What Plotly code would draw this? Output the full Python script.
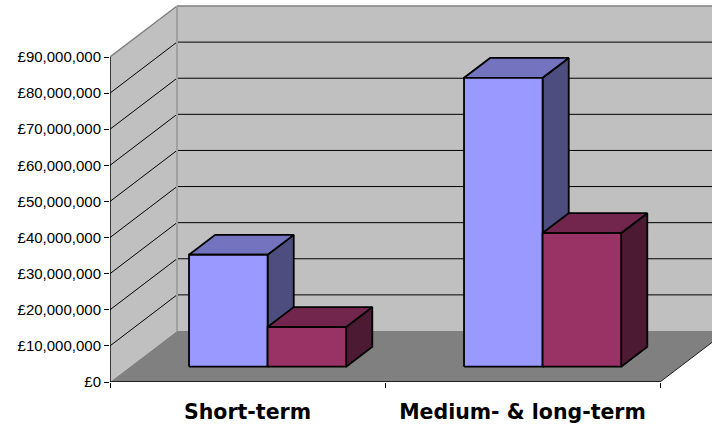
import plotly.graph_objects as go

# ---- data -------------------------------------------------------------
categories = ["Short-term", "Medium- & long-term"]
series_blue = [31_000_000, 80_000_000]
series_maroon = [11_000_000, 37_000_000]
y_tick_values = list(range(0, 90_000_001, 10_000_000))
y_tick_labels = [f"£{v:,}" for v in y_tick_values]

# ---- geometry of the oblique 3-D frame --------------------------------
W, H = 712, 426
M_LEFT, M_BOTTOM = 110, 44
PX_PER_CAT = 275.0                 # pixels per category slot
PX_PER_VALUE = 36.11 / 10_000_000  # pixels per pound
DEPTH_PX_X, DEPTH_PX_Y = 67.0, 51.0
DX = DEPTH_PX_X / PX_PER_CAT       # depth shift in category units
DY = DEPTH_PX_Y / PX_PER_VALUE     # depth shift in value units
WALL_TOP = y_tick_values[-1]
N = len(categories)

plot_h = H - M_BOTTOM
x_max = (W - M_LEFT) / PX_PER_CAT
y_max = plot_h / PX_PER_VALUE

BAR_W = 1 / 3.5          # gap width 150%
D_FRONT, D_BACK = 0.3, 0.69


def proj(x, v, d):
    return x + d * DX, v + d * DY


def poly(points, fill, line_color="black", line_width=1.8):
    xs, ys = zip(*[proj(*p) for p in points])
    xs = list(xs) + [xs[0]]
    ys = list(ys) + [ys[0]]
    return go.Scatter(x=xs, y=ys, mode="lines", fill="toself", fillcolor=fill,
                      line=dict(color=line_color, width=line_width),
                      hoverinfo="skip", showlegend=False)


def seg(p0, p1, color="black", width=1):
    a, b = proj(*p0), proj(*p1)
    return go.Scatter(x=[a[0], b[0]], y=[a[1], b[1]], mode="lines",
                      line=dict(color=color, width=width),
                      hoverinfo="skip", showlegend=False)


fig = go.Figure()

# walls and floor
fig.add_trace(poly([(0, 0, 1), (N + 1, 0, 1), (N + 1, WALL_TOP, 1), (0, WALL_TOP, 1)],
                   "#C0C0C0", line_width=0))
fig.add_trace(poly([(0, 0, 0), (0, 0, 1), (0, WALL_TOP, 1), (0, WALL_TOP, 0)],
                   "#C0C0C0", line_width=0))
fig.add_trace(poly([(0, 0, 0), (N, 0, 0), (N, 0, 1), (0, 0, 1)],
                   "#808080", line_width=0))

# gridlines on the side wall and back wall
for v in y_tick_values[1:-1]:
    fig.add_trace(seg((0, v, 0), (0, v, 1)))
    fig.add_trace(seg((0, v, 1), (N + 1, v, 1)))

# wall edges
fig.add_trace(seg((0, WALL_TOP, 0), (0, WALL_TOP, 1), "#808080", 1.5))
fig.add_trace(seg((0, WALL_TOP, 1), (N + 1, WALL_TOP, 1), "#808080", 1.5))
fig.add_trace(seg((0, 0, 1), (0, WALL_TOP, 1), "#A0A0A0", 2))
fig.add_trace(seg((N, 0, 0), (N, 0, 1), "#202020", 1))

# axis lines on the front plane
fig.add_trace(seg((0, 0, 0), (0, WALL_TOP, 0), "black", 1.4))
fig.add_trace(seg((0, 0, 0), (N, 0, 0), "black", 1.4))


def add_bar(i, s, value, front, top, side):
    x0 = i + 0.5 - BAR_W + s * BAR_W
    x1 = x0 + BAR_W
    fig.add_trace(poly([(x1, 0, D_FRONT), (x1, 0, D_BACK), (x1, value, D_BACK), (x1, value, D_FRONT)], side))
    fig.add_trace(poly([(x0, value, D_FRONT), (x1, value, D_FRONT), (x1, value, D_BACK), (x0, value, D_BACK)], top))
    fig.add_trace(poly([(x0, 0, D_FRONT), (x1, 0, D_FRONT), (x1, value, D_FRONT), (x0, value, D_FRONT)], front))


for i in range(N):
    add_bar(i, 0, series_blue[i], "#9999FF", "#7373BF", "#4D4D80")
    add_bar(i, 1, series_maroon[i], "#993366", "#73264D", "#4D1A33")

fig.update_layout(
    width=W, height=H,
    margin=dict(l=M_LEFT, r=0, t=0, b=M_BOTTOM, pad=0),
    paper_bgcolor="white", plot_bgcolor="white",
    showlegend=False,
    xaxis=dict(range=[0, x_max], showgrid=False, zeroline=False, showline=False,
               tickmode="array", tickvals=list(range(N + 1)),
               ticktext=[""] * (N + 1), ticks="outside", ticklen=5,
               tickcolor="black", tickwidth=1),
    xaxis2=dict(range=[0, x_max], overlaying="x", side="bottom",
                showgrid=False, zeroline=False, showline=False,
                tickmode="array", tickvals=[i + 0.5 for i in range(N)],
                ticktext=categories, ticks="",
                tickfont=dict(family="DejaVu Sans", size=20.5, color="black", weight="bold"),
                ticklabelstandoff=15),
    yaxis=dict(range=[0, y_max], showgrid=False, zeroline=False, showline=False,
               tickmode="array", tickvals=y_tick_values, ticktext=y_tick_labels,
               ticks="outside", ticklen=5, tickcolor="black", tickwidth=1,
               tickfont=dict(family="Liberation Sans, Arial", size=15, color="black")),
)

# an invisible trace to carry the second x axis
fig.add_trace(go.Scatter(x=[0], y=[0], xaxis="x2", mode="markers",
                         marker=dict(opacity=0), hoverinfo="skip", showlegend=False))

fig.write_html("out.html")
